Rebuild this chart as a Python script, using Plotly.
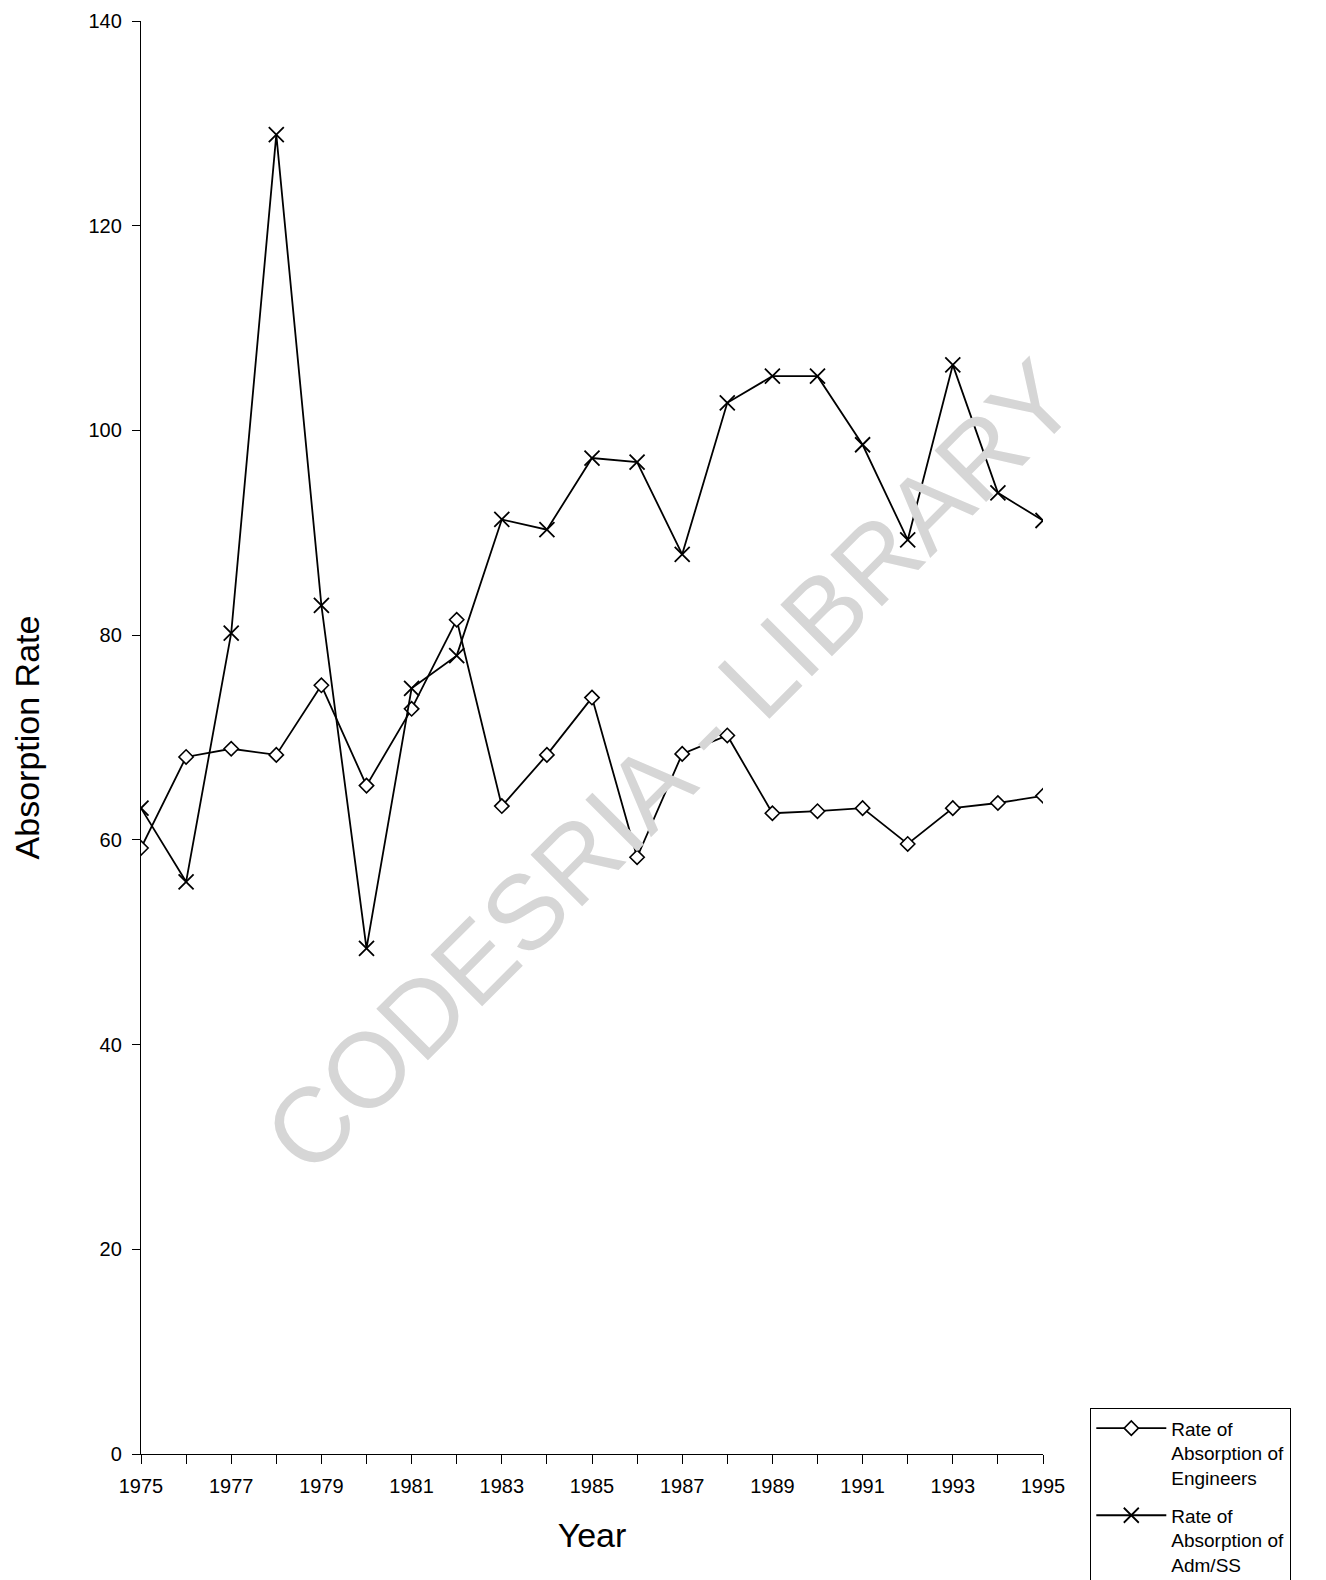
import plotly.graph_objects as go

years = list(range(1975, 1996))
engineers = [59.2, 68.1, 68.9, 68.3, 75.1, 65.3, 72.8, 81.5, 63.3, 68.3, 73.9,
             58.3, 68.4, 70.2, 62.6, 62.8, 63.1, 59.6, 63.1, 63.6, 64.3]
adm_ss = [63.1, 55.9, 80.2, 128.9, 82.9, 49.4, 74.8, 78.0, 91.3, 90.3, 97.3,
          96.9, 87.9, 102.7, 105.3, 105.3, 98.6, 89.3, 106.4, 93.9, 91.2]
x_tick_vals = list(range(1975, 1996, 2))
x_tick_labels = [str(y) for y in x_tick_vals]
y_ticks = [0, 20, 40, 60, 80, 100, 120, 140]

FONT = "Liberation Sans, Arial, sans-serif"
W, H = 1326, 1580
OFF = 8  # page body margin
L, T = 141 - OFF, 13
R = W - (1043 - OFF)
B = H - (1454 - OFF)
PW, PH = W - L - R, H - T - B

fig = go.Figure()
fig.add_annotation(
    text="CODESRIA - LIBRARY", xref="paper", yref="paper",
    x=(670 - OFF - L) / PW, y=(H - B - (766 - OFF)) / PH, showarrow=False,
    textangle=-45, font=dict(family=FONT, size=106, color="#d6d6d6"),
)
fig.add_trace(go.Scatter(
    x=years, y=engineers, mode="lines+markers",
    name="Rate of<br>Absorption of<br>Engineers", legendgroup="a",
    line=dict(color="black", width=1.8),
    marker=dict(symbol="diamond", size=11, color="white",
                line=dict(color="black", width=1.6)),
))
fig.add_trace(go.Scatter(
    x=years, y=adm_ss, mode="lines+markers",
    name="Rate of<br>Absorption of<br>Adm/SS", legendgroup="b",
    line=dict(color="black", width=1.8),
    marker=dict(symbol="x-thin-open", size=15, color="black",
                line=dict(color="black", width=1.8)),
))

fig.update_layout(
    width=W, height=H,
    margin=dict(l=L, r=R, t=T, b=B, autoexpand=False),
    paper_bgcolor="white", plot_bgcolor="white",
    font=dict(family=FONT, size=20, color="black"),
    showlegend=True,
    legend=dict(
        xref="container", yref="container",
        x=(1090 - OFF) / W, y=1 - (1408 - OFF) / H, xanchor="left", yanchor="top",
        bordercolor="black", borderwidth=1.3, bgcolor="white",
        font=dict(family=FONT, size=19, color="black"),
        itemwidth=70, tracegroupgap=10, valign="top",
    ),
    xaxis=dict(
        range=[1975, 1995], tickmode="array",
        tickvals=x_tick_vals, ticktext=x_tick_labels,
        showline=True, linecolor="black", linewidth=1.4,
        ticks="outside", ticklen=9, tickcolor="black", tickwidth=1.4,
        minor=dict(dtick=1, tick0=1975, ticks="outside", ticklen=9,
                   tickcolor="black", tickwidth=1.4),
        showgrid=False, zeroline=False, automargin=False,
        ticklabelstandoff=5, ticklabeloverflow="allow",
        title=dict(text="Year", font=dict(family=FONT, size=34), standoff=26),
        tickfont=dict(size=20),
    ),
    yaxis=dict(
        range=[0, 140], tickmode="array", tickvals=y_ticks,
        showline=True, linecolor="black", linewidth=1.4,
        ticks="outside", ticklen=8, tickcolor="black", tickwidth=1.4,
        showgrid=False, zeroline=False, automargin=False,
        ticklabelstandoff=6, ticklabeloverflow="allow",
        title=dict(text="Absorption Rate", font=dict(family=FONT, size=34), standoff=64),
        tickfont=dict(size=20),
    ),
)

fig.write_html("out.html")
